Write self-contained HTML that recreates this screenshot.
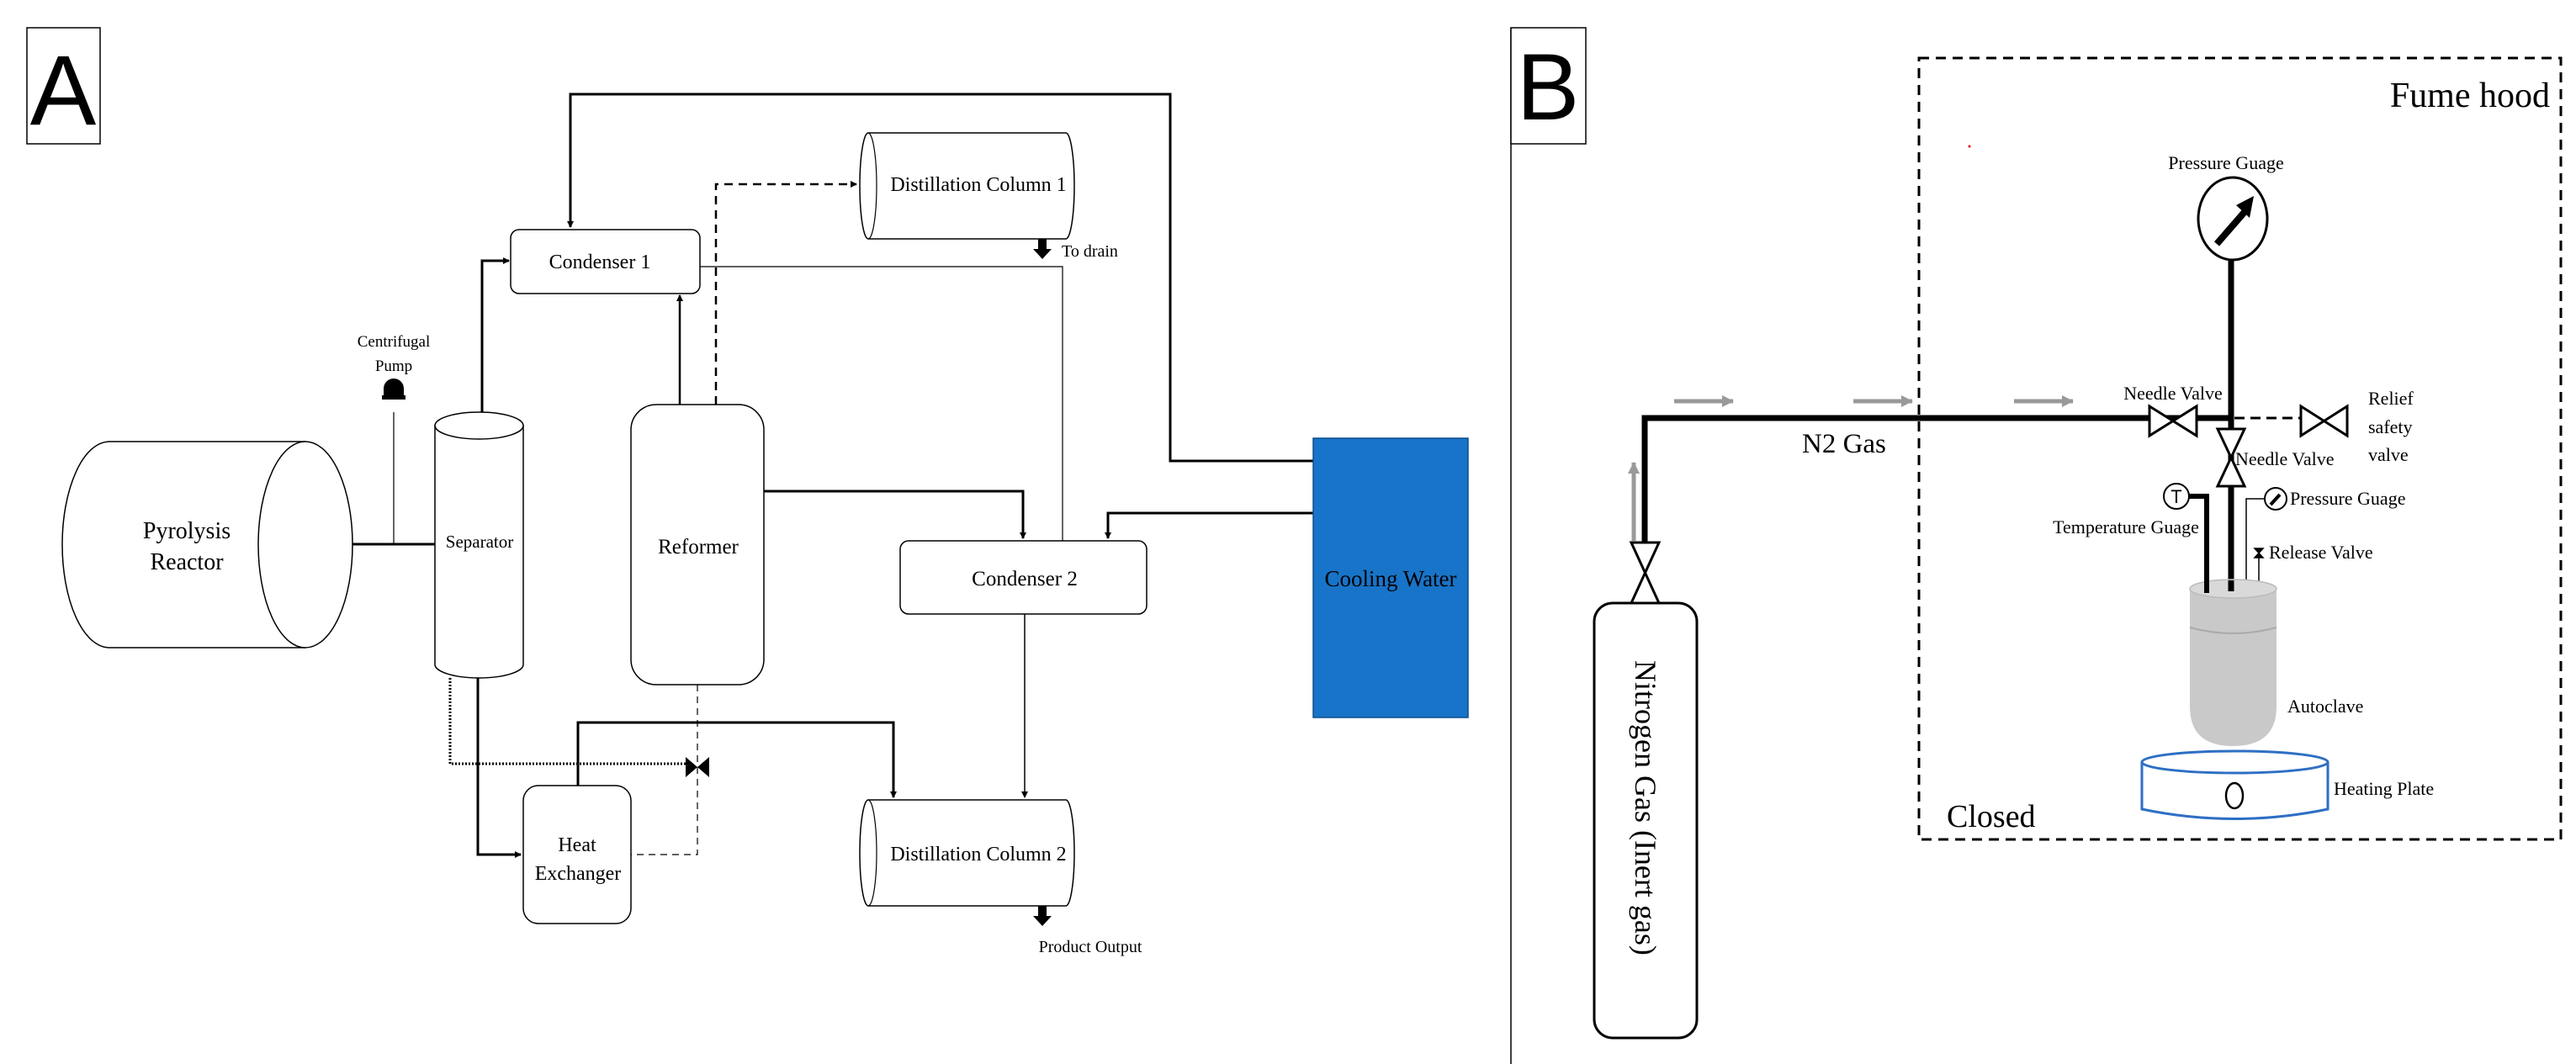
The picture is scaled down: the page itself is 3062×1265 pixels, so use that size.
<!DOCTYPE html>
<html><head><meta charset="utf-8"><style>
html,body{margin:0;padding:0;background:#fff;}
svg{display:block;}
text{font-family:"Liberation Serif",serif;fill:#000;}
</style></head><body>
<svg width="3062" height="1265" viewBox="0 0 3062 1265" xmlns="http://www.w3.org/2000/svg">
<defs>
<marker id="ah" markerWidth="8" markerHeight="8" refX="7" refY="4" orient="auto" markerUnits="userSpaceOnUse"><path d="M0,0 L8,4 L0,8 z" fill="#000"/></marker>
<marker id="ga" markerWidth="14" markerHeight="14" refX="13" refY="7" orient="auto" markerUnits="userSpaceOnUse"><path d="M0,0 L14,7 L0,14 z" fill="#999"/></marker>
</defs>
<!-- Panel A -->
<rect x="32" y="33" width="87" height="138" fill="#fff" stroke="#000" stroke-width="1.5"/>
<text x="75" y="148" style="font-family:'Liberation Sans',sans-serif" font-size="118" text-anchor="middle">A</text>

<g fill="none" stroke="#000">
<polyline points="1561,548 1391,548 1391,112 678,112 678,270" stroke-width="3" marker-end="url(#ah)"/>
<polyline points="573,490 573,310 605,310" stroke-width="3" marker-end="url(#ah)"/>
<polyline points="808,481 808,351" stroke-width="2.5" marker-end="url(#ah)"/>
<polyline points="851,481 851,219 1018,219" stroke-width="2.5" stroke-dasharray="10,7" marker-end="url(#ah)"/>
<polyline points="832,317 1263,317 1263,643" stroke-width="1.2"/>
<polyline points="908,584 1216,584 1216,640" stroke-width="3" marker-end="url(#ah)"/>
<polyline points="1561,610 1317,610 1317,640" stroke-width="3" marker-end="url(#ah)"/>
<polyline points="1218,730 1218,948" stroke-width="1.5" marker-end="url(#ah)"/>
<line x1="419" y1="647" x2="517" y2="647" stroke-width="3"/>
<line x1="468" y1="490" x2="468" y2="647" stroke-width="1.2"/>
<polyline points="568,806 568,1016 619,1016" stroke-width="3" marker-end="url(#ah)"/>
<polyline points="535,806 535,908 815,908" stroke-width="3" stroke-dasharray="2,2"/>
<polyline points="829,814 829,1016 750,1016" stroke-width="1.2" stroke-dasharray="8,6"/>
<polyline points="687,934 687,859 1062,859 1062,948" stroke-width="3" marker-end="url(#ah)"/>
</g>
<path d="M815,900 L829,912 L815,924 z M843,900 L829,912 L843,924 z" fill="#000"/>
<path d="M456,462 a12,12 0 1 1 24,0 l0,10 l-24,0 z" fill="#000"/>
<rect x="454" y="470" width="28" height="5" fill="#000"/>
<text x="468" y="412" font-size="19" text-anchor="middle">Centrifugal</text>
<text x="468" y="441" font-size="19" text-anchor="middle">Pump</text>

<path d="M363,525 L130,525 A56,122.5 0 0 0 130,770 L363,770" fill="#fff" stroke="#000" stroke-width="1.5"/>
<ellipse cx="363" cy="647.5" rx="56" ry="122.5" fill="#fff" stroke="#000" stroke-width="1.5"/>
<text x="222" y="640" font-size="28" text-anchor="middle">Pyrolysis</text>
<text x="222" y="677" font-size="28" text-anchor="middle">Reactor</text>

<path d="M517,506 L517,790 A52.5,16 0 0 0 622,790 L622,506" fill="#fff" stroke="#000" stroke-width="1.5"/>
<ellipse cx="569.5" cy="506" rx="52.5" ry="16" fill="#fff" stroke="#000" stroke-width="1.5"/>
<text x="570" y="651" font-size="21" text-anchor="middle">Separator</text>

<rect x="607" y="273" width="225" height="76" rx="10" fill="#fff" stroke="#000" stroke-width="1.5"/>
<text x="713" y="319" font-size="24" text-anchor="middle">Condenser 1</text>

<path d="M1032,158 L1267,158 A10,63 0 0 1 1267,284 L1032,284 A10,63 0 0 1 1032,158 z" fill="#fff" stroke="#000" stroke-width="1.5"/>
<path d="M1032,158 A10,63 0 0 1 1032,284" fill="none" stroke="#000" stroke-width="1.2"/>
<text x="1163" y="227" font-size="24" text-anchor="middle">Distillation Column 1</text>
<path d="M1234,284 h10 v12 h6 l-11,12 l-11,-12 h6 z" fill="#000"/>
<text x="1262" y="305" font-size="20">To drain</text>

<rect x="750" y="481" width="158" height="333" rx="30" fill="#fff" stroke="#000" stroke-width="1.5"/>
<text x="830" y="658" font-size="25" text-anchor="middle">Reformer</text>

<rect x="1070" y="643" width="293" height="87" rx="10" fill="#fff" stroke="#000" stroke-width="1.5"/>
<text x="1218" y="696" font-size="25" text-anchor="middle">Condenser 2</text>

<rect x="1561" y="521" width="184" height="332" fill="#1874c8" stroke="#0d4d8a" stroke-width="1.5"/>
<text x="1653" y="697" font-size="27" text-anchor="middle">Cooling Water</text>

<path d="M1032,951 L1267,951 A10,63 0 0 1 1267,1077 L1032,1077 A10,63 0 0 1 1032,951 z" fill="#fff" stroke="#000" stroke-width="1.5"/>
<path d="M1032,951 A10,63 0 0 1 1032,1077" fill="none" stroke="#000" stroke-width="1.2"/>
<text x="1163" y="1023" font-size="24" text-anchor="middle">Distillation Column 2</text>
<path d="M1234,1077 h10 v12 h6 l-11,12 l-11,-12 h6 z" fill="#000"/>
<text x="1296" y="1132" font-size="20" text-anchor="middle">Product Output</text>

<rect x="622" y="934" width="128" height="164" rx="18" fill="#fff" stroke="#000" stroke-width="1.5"/>
<text x="686" y="1012" font-size="24" text-anchor="middle">Heat</text>
<text x="687" y="1046" font-size="24" text-anchor="middle">Exchanger</text>

<!-- Divider -->
<line x1="1796" y1="33" x2="1796" y2="1265" stroke="#000" stroke-width="1.5"/>
<rect x="1796" y="33" width="89" height="138" fill="#fff" stroke="#000" stroke-width="1.5"/>
<text x="1840" y="142" style="font-family:'Liberation Sans',sans-serif" font-size="112" text-anchor="middle">B</text>

<!-- Panel B -->
<rect x="2281" y="69" width="763" height="929" fill="none" stroke="#000" stroke-width="3" stroke-dasharray="12,8"/>
<text x="3031" y="127" font-size="42" text-anchor="end">Fume hood</text>
<circle cx="2341" cy="174" r="1.5" fill="#e00"/>
<text x="2314" y="983" font-size="38">Closed</text>

<g fill="none" stroke="#000">
<polyline points="1955,647 1955,497 2652,497" stroke-width="7"/>
<line x1="2652" y1="308" x2="2652" y2="694" stroke-width="7"/>
<line x1="2656" y1="497" x2="2735" y2="497" stroke-width="3" stroke-dasharray="12,7"/>
<polyline points="2602,590 2623,590 2623,694" stroke-width="6"/>
<polyline points="2692,593 2670,593 2670,694" stroke-width="1.5"/>
<line x1="2685" y1="663" x2="2685" y2="694" stroke-width="1.5"/>
</g>
<g stroke="#999" stroke-width="5" fill="none">
<line x1="1990" y1="477" x2="2060" y2="477" marker-end="url(#ga)"/>
<line x1="2203" y1="477" x2="2273" y2="477" marker-end="url(#ga)"/>
<line x1="2394" y1="477" x2="2464" y2="477" marker-end="url(#ga)"/>
<line x1="1942" y1="643" x2="1942" y2="550" marker-end="url(#ga)"/>
</g>
<text x="2142" y="538" font-size="33">N2 Gas</text>

<g fill="#fff" stroke="#000" stroke-width="3">
<path d="M2555,483 L2611,518 L2611,483 L2555,518 z"/>
<path d="M2735,483 L2790,518 L2790,483 L2735,518 z"/>
<path d="M2636,510 L2668,578 L2636,578 L2668,510 z"/>
<path d="M1939,645 L1972,717 L1939,717 L1972,645 z"/>
</g>
<text x="2583" y="475" font-size="22" text-anchor="middle">Needle Valve</text>
<text x="2657" y="553" font-size="22">Needle Valve</text>
<text x="2815" y="481" font-size="22">Relief</text>
<text x="2815" y="515" font-size="22">safety</text>
<text x="2815" y="548" font-size="22">valve</text>

<ellipse cx="2654" cy="260" rx="41" ry="49" fill="#fff" stroke="#000" stroke-width="3"/>
<line x1="2635" y1="290" x2="2668" y2="252" stroke="#000" stroke-width="8"/>
<path d="M2679,233 L2658,244 L2674,259 z" fill="#000"/>
<text x="2646" y="201" font-size="22" text-anchor="middle">Pressure Guage</text>

<circle cx="2587" cy="590" r="15" fill="#fff" stroke="#000" stroke-width="2"/>
<text x="2587" y="598" font-size="22" text-anchor="middle" style="font-family:'Liberation Sans',sans-serif">T</text>
<text x="2527" y="634" font-size="22" text-anchor="middle">Temperature Guage</text>

<circle cx="2705" cy="593" r="13" fill="#fff" stroke="#000" stroke-width="2"/>
<line x1="2699" y1="600" x2="2710" y2="588" stroke="#000" stroke-width="4"/>
<text x="2722" y="600" font-size="22">Pressure Guage</text>

<path d="M2680,652 L2690,652 L2680,663 L2690,663 z" fill="#000" stroke="#000" stroke-width="1.5"/>
<text x="2697" y="664" font-size="22">Release Valve</text>

<path d="M2603,700 L2603,840 Q2603,887 2654,887 Q2706,887 2706,840 L2706,700 z" fill="#c9c9c9"/>
<path d="M2603,746 Q2654,760 2706,746" fill="none" stroke="#aaa" stroke-width="2"/>
<ellipse cx="2654.5" cy="700" rx="51.5" ry="11" fill="#d9d9d9" stroke="#bbb" stroke-width="1.5"/>
<line x1="2623" y1="690" x2="2623" y2="705" stroke="#000" stroke-width="6"/>
<line x1="2652" y1="690" x2="2652" y2="703" stroke="#000" stroke-width="7"/>
<text x="2719" y="847" font-size="22">Autoclave</text>

<path d="M2546,906 L2546,962 Q2656,985 2767,962 L2767,906" fill="#fff" stroke="#2e6fc4" stroke-width="3"/>
<ellipse cx="2656.5" cy="906" rx="110.5" ry="13" fill="#fff" stroke="#2e6fc4" stroke-width="3"/>
<ellipse cx="2656" cy="946" rx="10" ry="15" fill="none" stroke="#000" stroke-width="2.5"/>
<text x="2774" y="945" font-size="22">Heating Plate</text>

<rect x="1895" y="717" width="122" height="517" rx="22" fill="#fff" stroke="#000" stroke-width="3"/>
<text transform="translate(1944,785) rotate(90)" font-size="36">Nitrogen Gas (Inert gas)</text>
</svg>
</body></html>
